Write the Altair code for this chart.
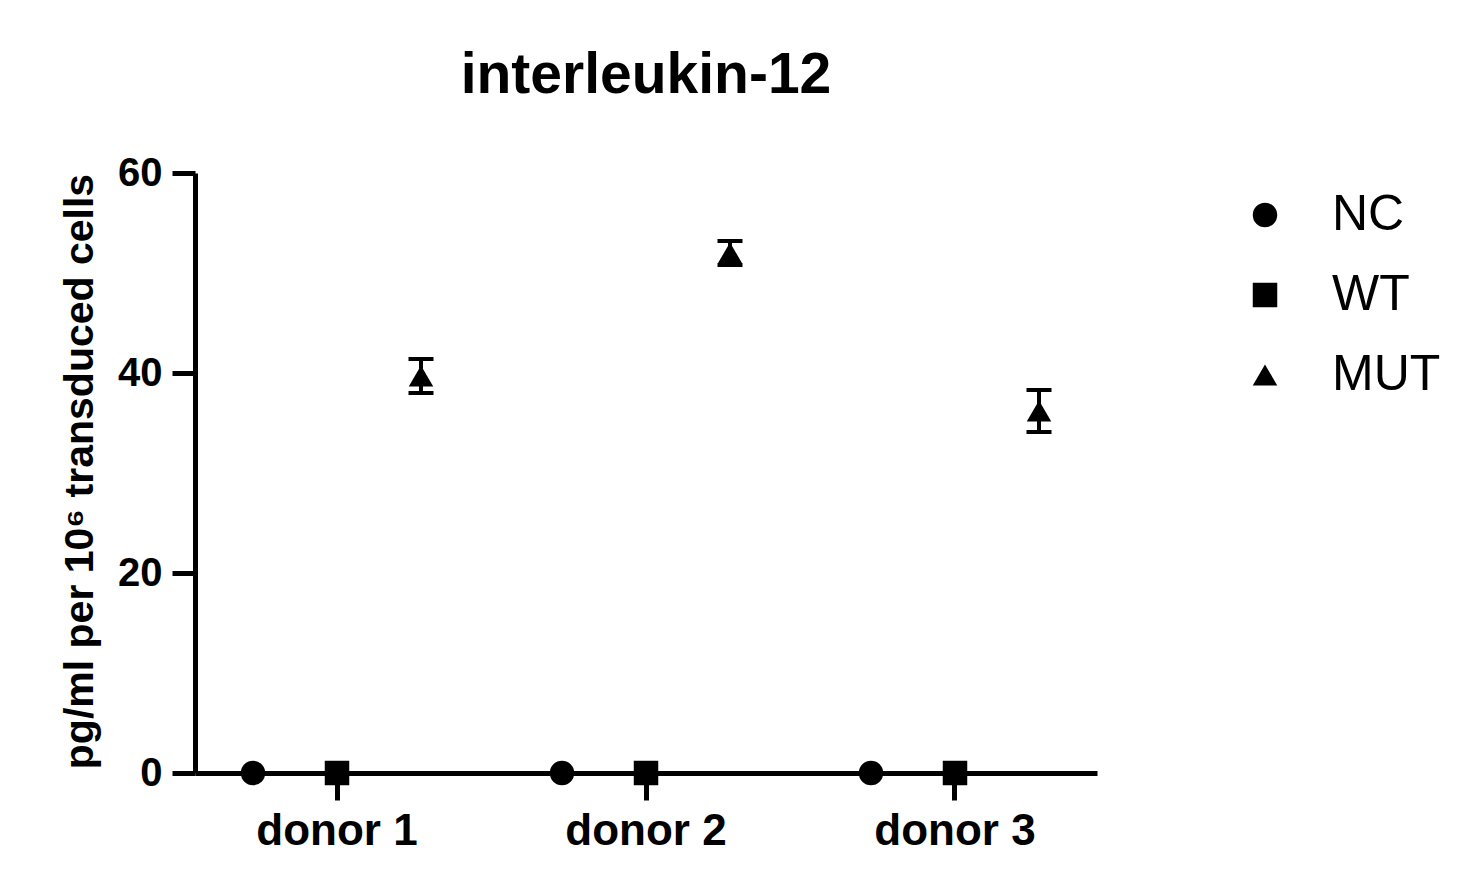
import altair as alt
import pandas as pd

donors = ["donor 1", "donor 2", "donor 3"]
groups = ["NC", "WT", "MUT"]
nc_mean = [0.0, 0.0, 0.0]
wt_mean = [0.0, 0.0, 0.0]
mut_mean = [39.7, 52.0, 36.2]
mut_err = [1.7, 1.2, 2.1]
nc_err = [0.0, 0.0, 0.0]
wt_err = [0.0, 0.0, 0.0]

rows = []
for g, means, errs in [("NC", nc_mean, nc_err), ("WT", wt_mean, wt_err), ("MUT", mut_mean, mut_err)]:
    for d, m, e in zip(donors, means, errs):
        rows.append({"donor": d, "group": g, "mean": m, "lo": m - e, "hi": m + e, "err": e})
df = pd.DataFrame(rows)
df_err = df[df["err"] > 0]

FONT = "Liberation Sans"

x_enc = alt.X("donor:N", sort=donors,
              scale=alt.Scale(domain=donors, paddingInner=0.1845, paddingOuter=0.0518),
              axis=alt.Axis(title=None, labelAngle=0, labelFontSize=44, labelFontWeight="bold",
                            labelFont=FONT, labelColor="black", tickSize=27, tickWidth=5,
                            tickColor="black", domainWidth=5, domainColor="black",
                            labelPadding=9, grid=False))
xo_enc = alt.XOffset("group:N", sort=groups,
                     scale=alt.Scale(domain=groups, paddingInner=0, paddingOuter=0))
y_scale = alt.Scale(domain=[0, 60], nice=False)
y_axis = alt.Axis(values=[0, 20, 40, 60], title="pg/ml per 10⁶ transduced cells",
                  labelFontSize=40, labelFontWeight="bold", labelFont=FONT, labelColor="black",
                  tickSize=23, tickWidth=5, tickColor="black", domainWidth=5, domainColor="black",
                  labelPadding=10, grid=False, titleFontSize=41, titleFontWeight="bold",
                  titleFont=FONT, titleColor="black", titleX=-115, titleY=298,
                  titleAlign="center", titleBaseline="middle", titleAngle=270)

base = alt.Chart(df)

rules = alt.Chart(df_err).mark_rule(color="black", strokeWidth=4).encode(
    x=x_enc, xOffset=xo_enc,
    y=alt.Y("lo:Q", scale=y_scale, axis=y_axis), y2="hi:Q")

cap_hi = alt.Chart(df_err).mark_tick(color="black", size=25, thickness=4, opacity=1).encode(
    x=x_enc, xOffset=xo_enc, y=alt.Y("hi:Q", scale=y_scale, axis=y_axis))
cap_lo = alt.Chart(df_err).mark_tick(color="black", size=25, thickness=4, opacity=1).encode(
    x=x_enc, xOffset=xo_enc, y=alt.Y("lo:Q", scale=y_scale, axis=y_axis))

points = base.mark_point(filled=True, opacity=1, size=600, color="black").encode(
    x=x_enc, xOffset=xo_enc,
    y=alt.Y("mean:Q", scale=y_scale, axis=y_axis),
    shape=alt.Shape("group:N", sort=groups,
                    scale=alt.Scale(domain=groups, range=["circle", "square", "triangle-up"]),
                    legend=alt.Legend(title=None, orient="none", legendX=1045, legendY=17,
                                      labelFontSize=50, labelFont=FONT, labelColor="black",
                                      symbolSize=600, symbolFillColor="black",
                                      symbolStrokeColor="black", symbolOpacity=1,
                                      labelOffset=42, rowPadding=30, padding=0)),
)

chart = alt.layer(rules, cap_hi, cap_lo, points).properties(
    width=902, height=600,
    title=alt.TitleParams("interleukin-12", fontSize=57, fontWeight="bold", font=FONT,
                          color="black", anchor="middle", offset=48),
    autosize=alt.AutoSizeParams(type="none"),
    padding={"left": 187, "top": 165, "right": 370, "bottom": 100},
).configure(background="white", view=alt.ViewConfig(stroke=None))

chart.save("out.html", embed_options={"renderer": "svg", "actions": False})
